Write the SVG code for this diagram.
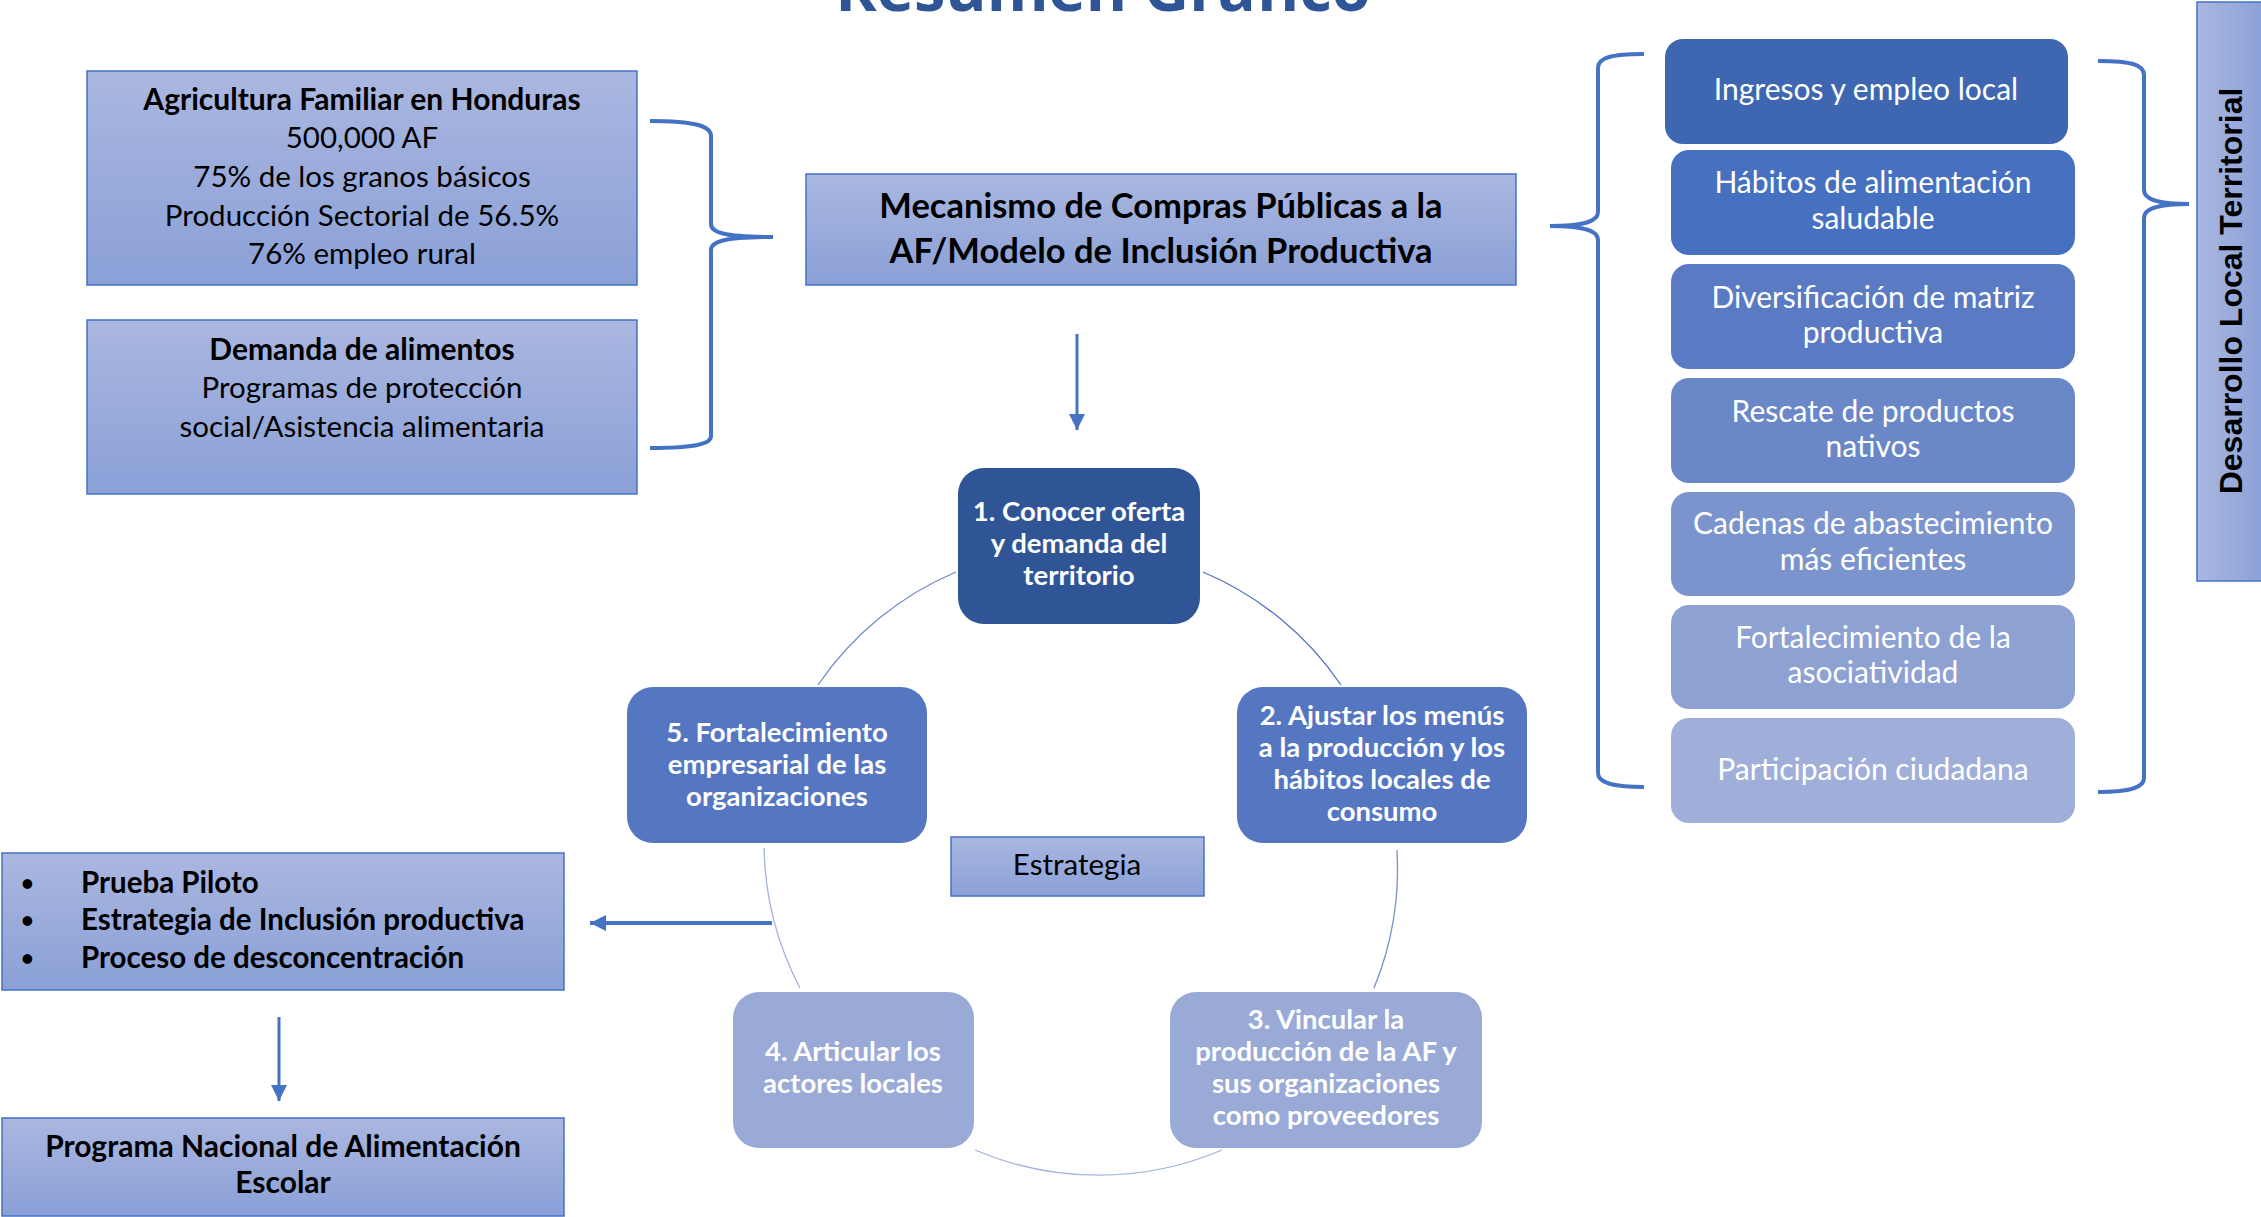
<svg xmlns="http://www.w3.org/2000/svg" width="2261" height="1217" viewBox="0 0 2261 1217">
<defs>
<linearGradient id="gv" x1="0" y1="0" x2="0" y2="1"><stop offset="0" stop-color="#AAB7E0"/><stop offset="1" stop-color="#8AA0D7"/></linearGradient>
<linearGradient id="gh" x1="0" y1="0" x2="1" y2="0"><stop offset="0" stop-color="#AAB7E0"/><stop offset="1" stop-color="#8AA0D7"/></linearGradient>
<marker id="ah" markerUnits="userSpaceOnUse" markerWidth="18" markerHeight="16" refX="16" refY="8" orient="auto"><path d="M0,0 L16,8 L0,16 Z" fill="#4472C4"/></marker>
<style>
.gbox{fill:url(#gv);stroke:#4472C4;stroke-width:1.5}
.t{font-family:Lato,"Liberation Sans",sans-serif;font-size:29.5px;fill:#000;text-anchor:middle}
.b{font-weight:bold;font-size:30px}
.lst{font-family:Lato,"Liberation Sans",sans-serif;font-size:30px;fill:#fff;text-anchor:middle}
.nd{font-family:Lato,"Liberation Sans",sans-serif;font-size:27.5px;font-weight:bold;fill:#fff;text-anchor:middle}
.brace{fill:none;stroke:#4472C4;stroke-width:4}
.arr{fill:none;stroke:#4472C4;marker-end:url(#ah)}
.arc{fill:none;stroke-width:1.3}
.bul{font-family:Lato,"Liberation Sans",sans-serif;font-size:29.5px;font-weight:bold;fill:#000}
</style>
</defs>
<rect width="2261" height="1217" fill="#fff"/>
<g id="title"><text x="1103" y="11" style="font-family:'Open Sans','Liberation Sans',sans-serif;font-size:63px;font-weight:bold;fill:#2F5597;text-anchor:middle">Resumen Gráfico</text></g>

<g id="connectors">
<path class="brace" d="M650,121 C695,121 711,126 711,136 L711,224 C711,232 722,237 773,237 C722,237 711,242 711,250 L711,436 C711,444 695,448 650,448"/>
<path class="brace" d="M1644,54 C1610,54 1598,58 1598,68 L1598,212 C1598,220 1588,226 1550,226 C1588,226 1598,232 1598,240 L1598,773 C1598,782 1610,787 1644,787"/>
<path class="brace" d="M2098,61 C2132,61 2144,65 2144,75 L2144,190 C2144,198 2154,204 2189,204 C2154,204 2144,210 2144,218 L2144,778 C2144,787 2132,792 2098,792"/>
<path class="arr" stroke-width="3" d="M1077,334 L1077,430"/>
<path class="arr" stroke-width="4" d="M772,923 L590,923"/>
<path class="arr" stroke-width="3" d="M279,1017 L279,1101"/>
<path class="arc" stroke="#4F72BF" d="M1203,572 A315,315 0 0 1 1341,685"/>
<path class="arc" stroke="#7891CC" d="M1397,850 A315,315 0 0 1 1374,988"/>
<path class="arc" stroke="#A3B3DD" d="M1222,1150 A315,315 0 0 1 975,1150"/>
<path class="arc" stroke="#A3B3DD" d="M800,988 A315,315 0 0 1 764,848"/>
<path class="arc" stroke="#6F89C9" d="M818,685 A315,315 0 0 1 956,572"/>
</g>

<g id="box-af">
<rect class="gbox" x="87" y="71" width="550" height="214"/>
<text class="t b" x="362" y="110">Agricultura Familiar en Honduras</text>
<text class="t" x="362" y="148">500,000 AF</text>
<text class="t" x="362" y="187">75% de los granos básicos</text>
<text class="t" x="362" y="226">Producción Sectorial de 56.5%</text>
<text class="t" x="362" y="264">76% empleo rural</text>
</g>
<g id="box-demanda">
<rect class="gbox" x="87" y="320" width="550" height="174"/>
<text class="t b" x="362" y="360">Demanda de alimentos</text>
<text class="t" x="362" y="398">Programas de protección</text>
<text class="t" x="362" y="437">social/Asistencia alimentaria</text>
</g>
<g id="box-mecanismo">
<rect class="gbox" x="806" y="174" width="710" height="111"/>
<text class="t b" x="1161" y="218" style="font-size:34.5px">Mecanismo de Compras Públicas a la</text>
<text class="t b" x="1161" y="263" style="font-size:34.5px">AF/Modelo de Inclusión Productiva</text>
</g>

<g id="list-1"><rect x="1665" y="39" width="403" height="105" rx="18" fill="#3F67B1"/><text class="lst" x="1866" y="100">Ingresos y empleo local</text></g>
<g id="list-2"><rect x="1671" y="150" width="404" height="105" rx="18" fill="#4671C0"/><text class="lst" x="1873" y="193">Hábitos de alimentación</text><text class="lst" x="1873" y="229">saludable</text></g>
<g id="list-3"><rect x="1671" y="264" width="404" height="105" rx="18" fill="#5A7BC3"/><text class="lst" x="1873" y="308">Diversificación de matriz</text><text class="lst" x="1873" y="343">productiva</text></g>
<g id="list-4"><rect x="1671" y="378" width="404" height="105" rx="18" fill="#6A88C8"/><text class="lst" x="1873" y="422">Rescate de productos</text><text class="lst" x="1873" y="457">nativos</text></g>
<g id="list-5"><rect x="1671" y="492" width="404" height="104" rx="18" fill="#7C94CD"/><text class="lst" x="1873" y="534">Cadenas de abastecimiento</text><text class="lst" x="1873" y="570">más eficientes</text></g>
<g id="list-6"><rect x="1671" y="605" width="404" height="104" rx="18" fill="#8EA1D3"/><text class="lst" x="1873" y="648">Fortalecimiento de la</text><text class="lst" x="1873" y="683">asociatividad</text></g>
<g id="list-7"><rect x="1671" y="718" width="404" height="105" rx="18" fill="#A0AFD9"/><text class="lst" x="1873" y="780">Participación ciudadana</text></g>

<g id="panel-desarrollo">
<rect x="2197" y="2" width="70" height="579" fill="url(#gh)" stroke="#4472C4" stroke-width="1.5"/>
<text transform="translate(2242,291) rotate(-90)" style="font-family:'Liberation Sans',Arial,sans-serif;font-size:32px;font-weight:bold;fill:#000;text-anchor:middle">Desarrollo Local Territorial</text>
</g>

<g id="node-1"><rect x="958" y="468" width="242" height="156" rx="26" fill="#2F5597"/>
<text class="nd" x="1079" y="521">1. Conocer oferta</text><text class="nd" x="1079" y="553">y demanda del</text><text class="nd" x="1079" y="585">territorio</text></g>
<g id="node-2"><rect x="1237" y="687" width="290" height="156" rx="26" fill="#5577C2"/>
<text class="nd" x="1382" y="725">2. Ajustar los menús</text><text class="nd" x="1382" y="757">a la producción y los</text><text class="nd" x="1382" y="789">hábitos locales de</text><text class="nd" x="1382" y="821">consumo</text></g>
<g id="node-3"><rect x="1170" y="992" width="312" height="156" rx="26" fill="#99AAD7"/>
<text class="nd" x="1326" y="1029">3. Vincular la</text><text class="nd" x="1326" y="1061">producción de la AF y</text><text class="nd" x="1326" y="1093">sus organizaciones</text><text class="nd" x="1326" y="1125">como proveedores</text></g>
<g id="node-4"><rect x="733" y="992" width="241" height="156" rx="26" fill="#99AAD7"/>
<text class="nd" x="853" y="1061">4. Articular los</text><text class="nd" x="853" y="1093">actores locales</text></g>
<g id="node-5"><rect x="627" y="687" width="300" height="156" rx="26" fill="#5577C2"/>
<text class="nd" x="777" y="742">5. Fortalecimiento</text><text class="nd" x="777" y="774">empresarial de las</text><text class="nd" x="777" y="806">organizaciones</text></g>

<g id="box-estrategia">
<rect class="gbox" x="951" y="837" width="253" height="59"/>
<text class="t" x="1077" y="875">Estrategia</text>
</g>

<g id="box-bullets">
<rect class="gbox" x="2" y="853" width="562" height="137"/>
<text class="bul" x="21" y="891" style="font-size:22px">•</text><text class="bul" x="81" y="893">Prueba Piloto</text>
<text class="bul" x="21" y="928" style="font-size:22px">•</text><text class="bul" x="81" y="930">Estrategia de Inclusión productiva</text>
<text class="bul" x="21" y="966" style="font-size:22px">•</text><text class="bul" x="81" y="968">Proceso de desconcentración</text>
</g>
<g id="box-pnae">
<rect class="gbox" x="2" y="1118" width="562" height="98"/>
<text class="t b" x="283" y="1157">Programa Nacional de Alimentación</text>
<text class="t b" x="283" y="1193">Escolar</text>
</g>
</svg>
